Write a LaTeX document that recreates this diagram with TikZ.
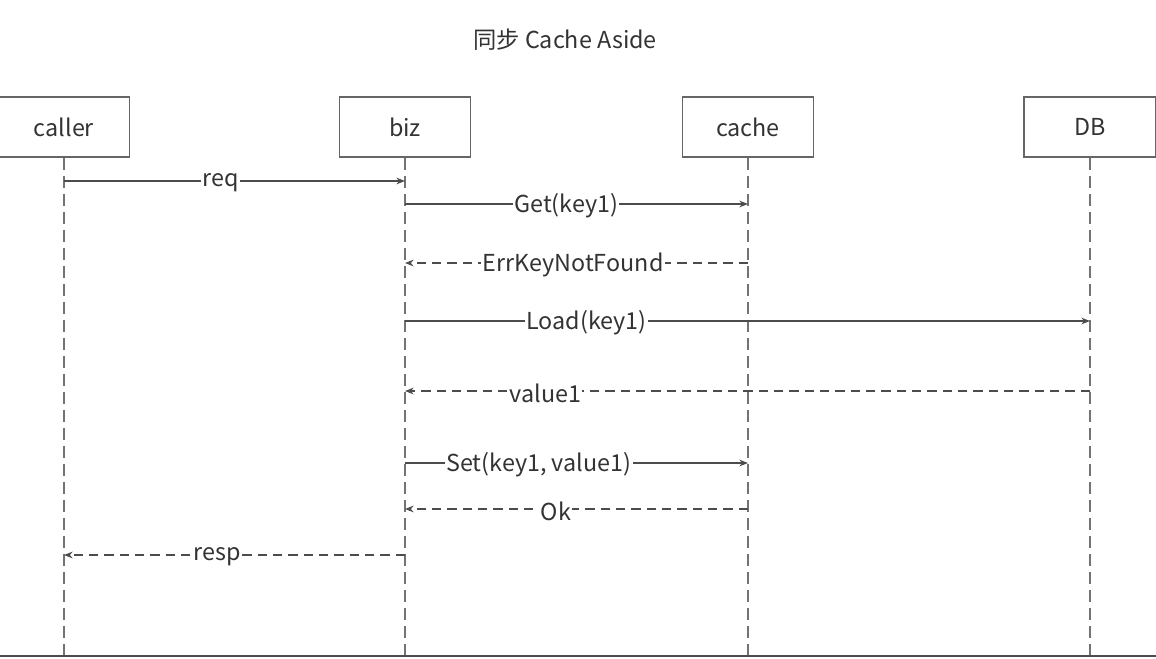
\documentclass[tikz,border=0pt]{standalone}
\usepackage{fontspec}
\setmainfont{Noto Sans CJK SC}
\usetikzlibrary{arrows.meta}
\begin{document}
\begin{tikzpicture}[x=0.75pt, y=-0.75pt,
    every node/.style={font=\fontsize{17.5}{20}\selectfont, text=black!80},
    actor/.style={draw=black!60, line width=1pt, minimum width=98pt, minimum height=45pt},
    life/.style={draw=black!55, line width=1pt, dash pattern=on 9pt off 4.5pt},
    call/.style={draw=black!70, line width=0.9pt, -{Stealth[length=6.5pt,width=5pt]}},
    reply/.style={call, dash pattern=on 7pt off 4.5pt},
    lbl/.style={fill=white, inner sep=1pt, yshift=-1.5pt}]
    \useasboundingbox (0,0) rectangle (1156,658);

    % Title
    \node (title) at (565,40) {同步 Cache Aside};

    % Participants
    \node[actor] (caller) at (64,127) {caller};
    \node[actor] (biz) at (405,127) {biz};
    \node[actor] (cache) at (748,127) {cache};
    \node[actor, minimum width=99pt] (db) at (1090,127) {DB};

    % Lifelines
    \foreach \p in {caller, biz, cache, db}
      \draw[life] (\p.south) -- (\p.south |- 0,658);

    % Messages
    \draw[call] (caller.south |- 0,181) -- node[lbl, pos=0.46] {req} (biz.south |- 0,181);
    \draw[call] (biz.south |- 0,204) -- node[lbl, pos=0.47] {Get(key1)} (cache.south |- 0,204);
    \draw[reply] (cache.south |- 0,263) -- node[lbl, pos=0.51] {ErrKeyNotFound} (biz.south |- 0,263);
    \draw[call] (biz.south |- 0,321) -- node[lbl, pos=0.265] {Load(key1)} (db.south |- 0,321);
    \draw[reply] (db.south |- 0,391) -- node[lbl, pos=0.795] {value1} (biz.south |- 0,391);
    \draw[call] (biz.south |- 0,463) -- node[lbl, pos=0.39] {Set(key1, value1)} (cache.south |- 0,463);
    \draw[reply] (cache.south |- 0,509) -- node[lbl, pos=0.56] {Ok} (biz.south |- 0,509);
    \draw[reply] (biz.south |- 0,555) -- node[lbl, pos=0.55] {resp} (caller.south |- 0,555);

    % Bottom edge
    \draw[black!70, line width=1pt] (0,656) -- (1156,656);
\end{tikzpicture}
\end{document}
